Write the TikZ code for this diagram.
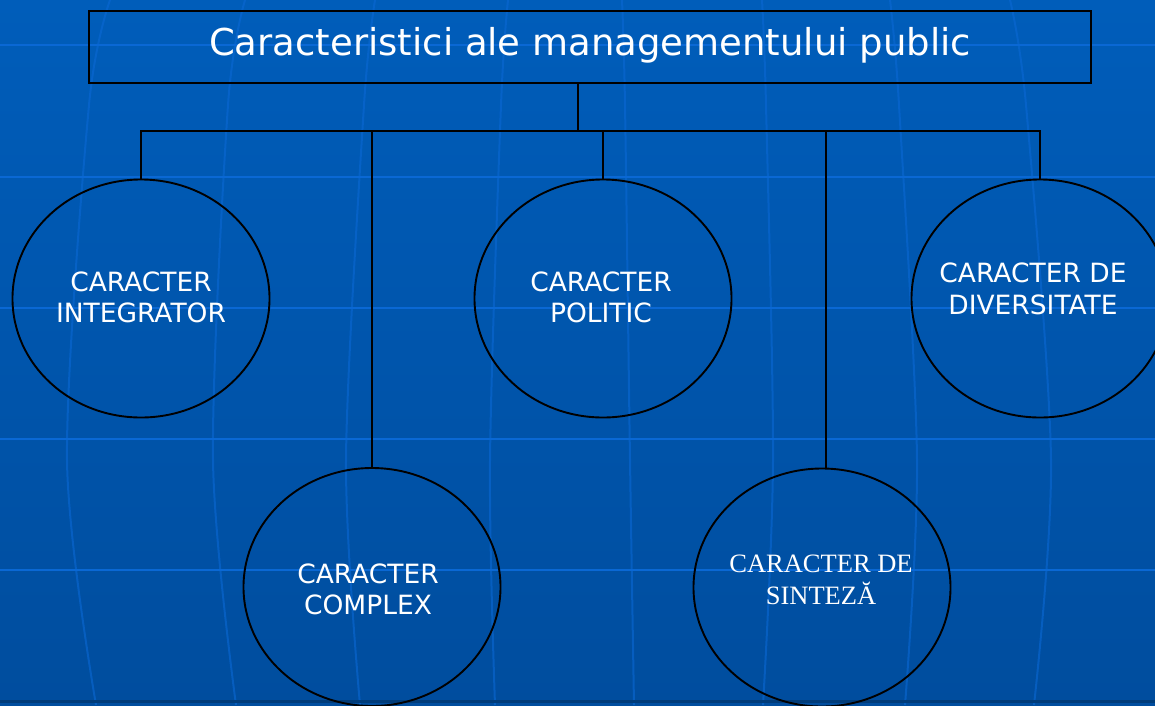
\documentclass[tikz,border=0pt]{standalone}
\usepackage{fontspec}
\setmainfont{DejaVu Sans}
\newfontfamily\serifface{Liberation Serif}
\usetikzlibrary{shapes.geometric}
\definecolor{bgtop}{RGB}{0,93,186}
\definecolor{bgbot}{RGB}{0,77,158}
\definecolor{gridc}{RGB}{10,104,212}
\definecolor{bandc}{RGB}{0,60,122}
\tikzset{
  gridline/.style={draw=gridc, line width=2.2pt},
  meridian/.style={draw=gridc, line width=2pt, opacity=0.6},
  titlebox/.style={draw=black, line width=2.5pt, minimum width=1002pt, minimum height=72pt,
     inner sep=0pt, text=white, font=\fontsize{37}{44}\selectfont, text height=28pt, text depth=11.5pt},
  circ/.style={draw=black, line width=1.9pt, ellipse, minimum width=257pt, minimum height=238pt, inner sep=0pt},
  lbl/.style={text=white, align=center, inner sep=0pt, font=\fontsize{26.5}{31.5}\selectfont},
  lblserif/.style={text=white, align=center, inner sep=0pt, font=\serifface\fontsize{26.5}{32}\selectfont},
  conn/.style={draw=black, line width=1.9pt}
}
\begin{document}
\begin{tikzpicture}[x=1pt,y=-1pt]
\useasboundingbox (0,0) rectangle (1155,705);
% background
\shade[top color=bgtop, bottom color=bgbot] (0,0) rectangle (1155,705);
\foreach \yy in {45,177,308,439,570} {
  \draw[gridline] (0,\yy) -- (1155,\yy);
}
\foreach \a/\b/\c/\d in {110/89/67/96, 245/228/213/236, 375/364/346/360, 508/501/490/495,
                         622/625/630/634, 762/766/773/763, 890/899/917/905, 1010/1026/1051/1034} {
  \draw[meridian] plot[smooth] coordinates {(\a,0) (\b,105) (\c,460) (\d,705)};
}
\fill[bandc] (0,699.5) rectangle (1155,702.5);

% title
\node[titlebox] (title) at (590,47) {Caracteristici ale managementului public};
\coordinate (j) at (578,131);

% ellipses
\node[circ] (e1) at (141,298.5) {};
\node[circ] (e3) at (603,298.5) {};
\node[circ] (e5) at (1040,298.5) {};
\node[circ] (e2) at (372,587) {};
\node[circ] (e4) at (822,587.5) {};

% labels
\node[lbl] (t1) at (141,297.5) {CARACTER\\INTEGRATOR};
\node[lbl] (t3) at (601,297.5) {CARACTER\\POLITIC};
\node[lbl] (t5) at (1033,289) {CARACTER DE\\DIVERSITATE};
\node[lbl] (t2) at (368,589.5) {CARACTER\\COMPLEX};
\node[lblserif] (t4) at (821,580) {CARACTER DE\\SINTEZĂ};

% connectors
\draw[conn] (title.south -| j) -- (j);
\draw[conn] (e1.north) -- (e1.north |- j) -- (e5.north |- j) -- (e5.north);
\draw[conn] (e3.north |- j) -- (e3.north);
\draw[conn] (e2.north |- j) -- (e2.north);
\draw[conn] ([xshift=4pt]e4.north |- j) -- ([xshift=4pt]e4.north);
\end{tikzpicture}
\end{document}
